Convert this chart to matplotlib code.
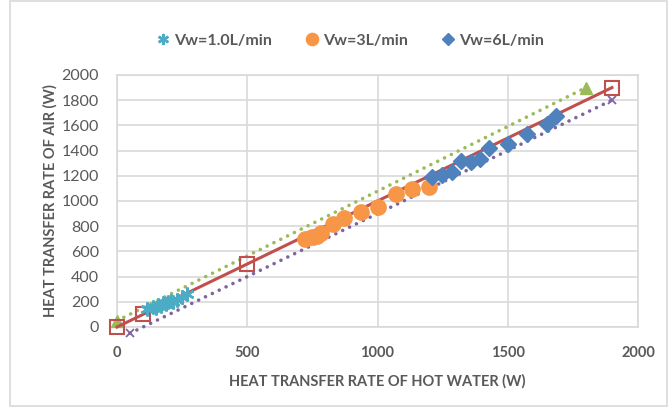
import numpy as np
import matplotlib.pyplot as plt
from matplotlib.patches import Rectangle

plt.rcParams['font.family'] = ['Lato', 'DejaVu Sans']

# Vw = 1.0 L/min
x1 = [114, 139, 150, 159, 170, 178, 190, 197, 208, 216, 231, 248, 267]
y1 = [140, 160, 150, 175, 168, 188, 180, 196, 205, 201, 214, 236, 262]
# Vw = 3 L/min
x3 = [722, 747, 766, 785, 828, 871, 937, 1003, 1070, 1134, 1199]
y3 = [698, 712, 722, 748, 817, 868, 910, 955, 1056, 1095, 1114]
# Vw = 6 L/min
x6 = [1208, 1246, 1285, 1319, 1358, 1393, 1429, 1502, 1575, 1652, 1685]
y6 = [1188, 1206, 1233, 1320, 1312, 1331, 1418, 1452, 1529, 1611, 1675]

# reference lines
ref_x = [0, 100, 500, 1900]
ref_y = [0, 100, 500, 1900]
up_x = [0, 1800]
up_y = [50, 1900]
lo_x = [50, 1900]
lo_y = [-50, 1800]

grey = '#595959'
grid = '#D9D9D9'

fig = plt.figure(figsize=(6.7, 4.07), dpi=100)
ax = fig.add_axes([117/670, 1-327/407, 521/670, 252/407])

ax.plot(up_x, up_y, color='#9BBB59', lw=2.6, ls=(0, (0.01, 2.1)), dash_capstyle='round',
        marker='^', ms=8, mfc='#9BBB59', mec='#9BBB59', clip_on=False, zorder=3)
ax.plot(lo_x, lo_y, color='#8064A2', lw=2.6, ls=(0, (0.01, 2.1)), dash_capstyle='round',
        marker='x', ms=6, mew=1.3, clip_on=False, zorder=3)
ax.plot(ref_x, ref_y, color='#C0504D', lw=2.2, marker='s', ms=9.5, mfc='none',
        mec='#C0504D', mew=1.5, clip_on=False, zorder=3)

s1, = ax.plot(x1, y1, ls='none', marker=(6, 2, 0), ms=10, mew=1.8, color='#4BACC6', zorder=4)
s3, = ax.plot(x3, y3, ls='none', marker='o', ms=11, color='#F79646', mec='#F79646', zorder=4)
s6, = ax.plot(x6, y6, ls='none', marker='D', ms=8, color='#4F81BD', mec='#4F81BD', zorder=4)

ax.set_xlim(0, 2000)
ax.set_ylim(0, 2000)
ax.set_xticks(np.arange(0, 2001, 500))
ax.set_yticks(np.arange(0, 2001, 200))
ax.grid(True, color=grid, lw=1.2)
ax.set_axisbelow(True)
for sp in ax.spines.values():
    sp.set_color(grid)
    sp.set_linewidth(1.2)
ax.tick_params(axis='x', length=0, pad=14)
ax.tick_params(axis='y', length=0, pad=13)
for lab in ax.get_xticklabels():
    lab.set_fontsize(10.5)
    lab.set_fontweight('bold')
    lab.set_color(grey)
for lab in ax.get_yticklabels():
    lab.set_fontsize(11.5)
    lab.set_color(grey)

ax.set_xlabel('HEAT TRANSFER RATE OF HOT WATER (W)', fontsize=10.5, fontweight='bold',
              color=grey, labelpad=10)
ax.set_ylabel('HEAT TRANSFER RATE OF AIR (W)', fontsize=10.5, fontweight='bold',
              color=grey, labelpad=3)

fig.legend([s1, s3, s6], ['Vw=1.0L/min', 'Vw=3L/min', 'Vw=6L/min'], ncol=3,
           loc='center', bbox_to_anchor=(0.52, 0.9), frameon=False,
           prop={'size': 11.5, 'weight': 'bold'}, labelcolor=grey,
           handletextpad=0.1, columnspacing=1.9, handlelength=1.2, markerscale=0.8)

fig.patches.append(Rectangle((10/670, 0.002), 657/670, 0.996, transform=fig.transFigure,
                             fill=False, ec=grid, lw=1.2))

fig.savefig('out.png', dpi=100)
